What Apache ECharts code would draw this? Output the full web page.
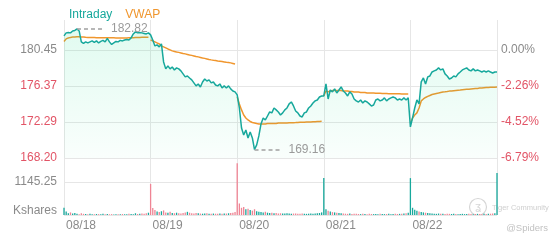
<!DOCTYPE html>
<html><head><meta charset="utf-8">
<script src="https://cdn.jsdelivr.net/npm/echarts@6/dist/echarts.min.js"></script>
<style>html,body{margin:0;padding:0;background:#fff}#c{width:560px;height:240px}</style>
</head><body><div id="c"></div><script>
// ---- data ----
const days = ['08/18','08/19','08/20','08/21','08/22'];
const pointsPerDay = 40;
const prevClose = 180.45;
const priceTicks = ['168.20','172.29','176.37','180.45'];
const pctTicks = ['-6.79%','-4.52%','-2.26%','0.00%'];
const volTicks = ['Kshares','1145.25'];
const priceMin = 168.20, priceStep = 4.0833, priceMax = 183.84;
const volStep = 1145.25, volMax = 1978;

const intraday = [
182.04,182.38,182.43,182.38,182.60,182.66,182.82,182.60,181.36,181.19,
181.36,181.24,181.36,181.47,181.30,181.47,181.24,181.41,181.53,181.36,
181.75,181.36,181.07,181.24,181.41,181.36,181.53,181.47,181.58,181.64,
181.58,181.81,182.26,182.49,182.38,182.43,182.38,182.32,182.26,182.38,
182.15,181.58,180.90,181.02,180.79,181.13,179.09,178.30,178.64,178.30,
178.52,178.18,178.41,178.30,178.07,177.73,177.39,177.50,177.27,177.05,
176.71,176.37,176.59,176.25,176.82,177.16,176.93,177.05,176.71,176.82,
176.48,176.37,176.59,176.14,176.37,176.14,176.37,176.03,175.80,175.69,
175.35,173.87,171.60,170.81,171.38,170.47,171.15,170.47,169.16,169.68,
170.70,172.06,172.74,172.51,172.96,173.42,173.31,173.87,173.65,173.42,
173.08,173.31,173.65,173.87,174.33,174.55,174.10,173.53,173.31,172.96,
172.85,173.31,173.42,173.87,174.10,174.44,174.67,174.78,175.12,175.23,
175.23,176.59,174.89,175.91,175.69,176.03,175.57,175.91,176.25,175.80,
175.57,175.23,175.69,175.46,174.89,174.67,174.55,174.78,174.44,174.67,
174.55,174.33,174.10,174.21,174.78,174.89,174.67,174.78,175.01,174.67,
174.89,175.01,175.12,175.01,174.78,174.89,174.78,175.01,174.78,175.01,
171.72,172.74,173.87,174.78,174.33,176.82,177.27,176.59,177.39,177.50,
177.95,178.07,178.18,178.41,178.18,178.30,177.73,177.50,177.16,177.27,
177.50,177.39,177.73,177.95,178.18,178.30,178.41,178.18,178.07,178.30,
178.07,178.18,178.07,177.95,178.07,177.95,178.07,177.95,177.84,177.95,
177.95
];

const vwap = [
181.41,181.70,181.81,181.87,181.90,181.92,181.94,181.93,181.91,181.90,
181.88,181.87,181.86,181.85,181.85,181.84,181.84,181.83,181.83,181.83,
181.82,181.82,181.82,181.82,181.81,181.81,181.81,181.81,181.81,181.81,
181.82,181.83,181.84,181.85,181.86,181.87,181.88,181.88,181.89,181.89,
181.58,181.47,181.36,181.24,181.13,180.90,180.79,180.68,180.56,180.45,
180.34,180.28,180.22,180.17,180.11,180.05,180.00,179.94,179.88,179.83,
179.77,179.71,179.66,179.60,179.54,179.49,179.43,179.37,179.32,179.28,
179.25,179.20,179.17,179.13,179.09,179.05,179.02,178.98,178.92,178.86,
175.12,174.33,173.65,173.08,172.74,172.51,172.34,172.23,172.17,172.11,
172.06,172.06,172.06,172.06,172.11,172.11,172.11,172.11,172.11,172.17,
172.17,172.17,172.17,172.17,172.19,172.19,172.20,172.21,172.23,172.24,
172.25,172.26,172.27,172.28,172.28,172.30,172.32,172.33,172.34,172.36,
175.23,175.80,175.69,175.80,175.86,175.86,175.86,175.86,175.86,175.80,
175.80,175.80,175.74,175.74,175.69,175.69,175.69,175.63,175.63,175.63,
175.57,175.57,175.57,175.57,175.55,175.54,175.53,175.52,175.50,175.50,
175.49,175.49,175.48,175.48,175.47,175.47,175.46,175.46,175.46,175.46,
172.17,172.74,173.08,173.31,173.87,174.67,174.89,175.06,175.18,175.29,
175.40,175.46,175.52,175.57,175.63,175.69,175.71,175.74,175.78,175.80,
175.83,175.86,175.89,175.91,175.94,175.96,175.98,176.00,176.03,176.05,
176.07,176.09,176.12,176.14,176.16,176.18,176.20,176.21,176.22,176.23,
176.25
];

const volume = [
250,120,60,90,50,70,45,30,60,40,35,30,40,30,25,35,30,25,40,30,35,25,30,20,30,25,30,35,25,30,40,35,30,60,35,40,50,45,60,80,
1080,240,170,120,100,130,160,90,80,110,70,60,80,60,50,70,90,110,80,60,50,70,60,50,45,50,60,45,40,50,45,40,50,45,55,50,60,70,80,100,
1800,400,250,280,200,220,170,150,200,130,110,100,90,110,80,70,80,60,70,55,60,50,55,60,50,45,50,55,45,40,50,45,40,45,50,45,55,60,70,90,
1280,200,150,120,100,90,80,70,60,50,45,40,50,35,40,45,35,30,40,35,30,40,35,30,35,30,40,35,30,35,40,30,35,40,35,40,45,50,60,80,
1280,250,180,150,120,100,90,80,70,60,50,45,40,50,45,40,35,45,40,35,40,35,30,35,40,30,35,40,35,30,35,40,35,30,40,35,40,45,50,60,1460
];
const upOverride = [160];

// ---- build ----
const TEAL = '#17a89c', ORANGE = '#f0962d', RED = '#e25466', GRAY = '#8a8a8a', GRID = '#e6e6e6';
const FONT = 'Liberation Sans, Arial, sans-serif';
const N = intraday.length;
const cats = intraday.map((_, i) => days[Math.min(Math.floor(i / pointsPerDay), days.length - 1)] + ' ' + i);

let maxIdx = 0, minIdx = 0;
intraday.forEach((v, i) => { if (v > intraday[maxIdx]) maxIdx = i; if (v < intraday[minIdx]) minIdx = i; });

const vwapSeries = days.map((d, k) => {
  const s = k * pointsPerDay, e = (k === days.length - 1) ? N : s + pointsPerDay;
  return {
    name: 'VWAP', type: 'line', xAxisIndex: 0, yAxisIndex: 0, showSymbol: false, symbol: 'none',
    lineStyle: { color: ORANGE, width: 1.5 }, itemStyle: { color: ORANGE },
    data: vwap.map((v, i) => (i >= s && i < e) ? v : null), z: 3
  };
});

const volData = volume.map((v, i) => {
  const up = i === 0 || intraday[i] >= intraday[i - 1] || upOverride.includes(i);
  return { value: v, itemStyle: { color: up ? TEAL : '#ef8494' } };
});

const dayLine = (i) => i % pointsPerDay === 0;
const markStyle = { color: '#9a9a9a', fontSize: 12, fontFamily: FONT, distance: 8 };

const chart = echarts.init(document.getElementById('c'), null, { renderer: 'canvas' });
chart.setOption({
  animation: false,
  backgroundColor: '#fff',
  textStyle: { fontFamily: FONT },
  legend: {
    left: 59, top: 3, itemWidth: 0, itemHeight: 14, itemGap: 8, icon: 'rect',
    selectedMode: false,
    textStyle: { fontSize: 12, fontFamily: FONT },
    data: [{ name: 'Intraday', textStyle: { color: TEAL } }, { name: 'VWAP', textStyle: { color: ORANGE } }]
  },
  grid: [
    { left: 64, right: 63, top: 20, height: 138 },
    { left: 64, right: 63, top: 158, height: 57 }
  ],
  xAxis: [
    { type: 'category', gridIndex: 0, data: cats, boundaryGap: false,
      axisLine: { show: false }, axisTick: { show: false }, axisLabel: { show: false },
      splitLine: { show: true, interval: dayLine, lineStyle: { color: GRID, width: 1 } } },
    { type: 'category', gridIndex: 1, data: cats, boundaryGap: false,
      axisLine: { show: false }, axisTick: { show: false },
      axisLabel: { show: true, interval: (i) => i % pointsPerDay === 0 && i < N - 1, formatter: (v) => v.split(' ')[0],
        align: 'left', margin: 5, color: GRAY, fontSize: 12, fontFamily: FONT, padding: [0, 0, 0, 2] },
      splitLine: { show: true, interval: dayLine, lineStyle: { color: GRID, width: 1 } } }
  ],
  yAxis: [
    { type: 'value', gridIndex: 0, position: 'left', min: priceMin, max: priceMax, interval: priceStep,
      axisLine: { show: false }, axisTick: { show: false },
      axisLabel: { margin: 7, fontSize: 12, fontFamily: FONT, formatter: (v, i) => priceTicks[i] || '',
        color: (v, i) => (i === 3 ? GRAY : RED) },
      splitLine: { show: true, lineStyle: { color: [GRID, GRID, GRID, GRID, 'rgba(0,0,0,0)'] } } },
    { type: 'value', gridIndex: 0, position: 'right', min: priceMin, max: priceMax, interval: priceStep,
      axisLine: { show: false }, axisTick: { show: false },
      axisLabel: { margin: 4, fontSize: 12, fontFamily: FONT, formatter: (v, i) => pctTicks[i] || '',
        color: (v, i) => (i === 3 ? GRAY : RED) },
      splitLine: { show: false } },
    { type: 'value', gridIndex: 1, position: 'left', min: 0, max: volMax, interval: volStep,
      axisLine: { show: false }, axisTick: { show: false },
      axisLabel: { margin: 7, fontSize: 12, fontFamily: FONT, color: GRAY,
        formatter: (v, i) => i === 0 ? '{k|' + volTicks[0] + '}' : (volTicks[i] || ''),
        rich: { k: { color: GRAY, fontSize: 12, fontFamily: FONT, padding: [0, 0, 8, 0] } } },
      splitLine: { show: true, lineStyle: { color: [GRID, GRID, 'rgba(0,0,0,0)'] } } }
  ],
  series: [
    { name: 'Intraday', type: 'line', xAxisIndex: 0, yAxisIndex: 0, data: intraday,
      showSymbol: false, symbol: 'none', z: 4,
      lineStyle: { color: TEAL, width: 1.5 }, itemStyle: { color: TEAL },
      areaStyle: { origin: 'start', color: new echarts.graphic.LinearGradient(0, 0, 0, 1, [
        { offset: 0, color: 'rgba(0,220,130,0.17)' }, { offset: 1, color: 'rgba(0,220,130,0.03)' }]) },
      markLine: {
        silent: true, symbol: ['none', 'none'], animation: false,
        lineStyle: { color: '#a0a0a0', type: [4, 3], width: 1.5 },
        data: [
          [{ coord: [maxIdx, intraday[maxIdx]], label: { show: true, position: 'end', formatter: intraday[maxIdx].toFixed(2), ...markStyle } },
           { coord: [maxIdx + 12, intraday[maxIdx]] }],
          [{ coord: [minIdx, intraday[minIdx]], label: { show: true, position: 'end', formatter: intraday[minIdx].toFixed(2), ...markStyle } },
           { coord: [minIdx + 12, intraday[minIdx]] }]
        ]
      }
    },
    ...vwapSeries,
    { name: 'Volume', type: 'bar', xAxisIndex: 1, yAxisIndex: 2, data: volData, barWidth: 1.3, z: 3 }
  ],
  graphic: [
    { type: 'circle', shape: { cx: 478, cy: 207, r: 8.5 }, style: { fill: 'none', stroke: '#d6d6d6', lineWidth: 1.2 } },
    { type: 'text', style: { x: 478, y: 207, text: 'ʓ', fill: '#d6d6d6', fontSize: 11, align: 'center', verticalAlign: 'middle', fontFamily: FONT } },
    { type: 'text', style: { x: 492, y: 208, text: 'Tiger Community', fill: '#cfcfcf', fontSize: 7.5, verticalAlign: 'middle', fontFamily: FONT } },
    { type: 'text', style: { x: 548, y: 228, text: '@Spiders', fill: '#c2c2c2', fontSize: 9.5, align: 'right', verticalAlign: 'middle', fontFamily: FONT } }
  ]
});
</script></body></html>
